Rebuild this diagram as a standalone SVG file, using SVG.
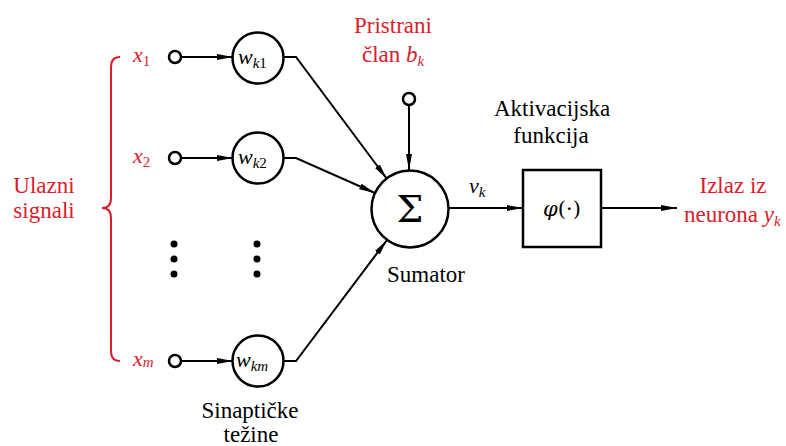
<svg xmlns="http://www.w3.org/2000/svg" width="786" height="446" viewBox="0 0 786 446">
<defs>
<marker id="arr" markerUnits="userSpaceOnUse" markerWidth="16" markerHeight="8" refX="16" refY="4" orient="auto">
<path d="M0,1 L16,4 L0,7 z" fill="#000"/>
</marker>
<style>
.node{fill:#fff;stroke:#000;stroke-width:2.5}
.c{fill:none;stroke:#000;stroke-width:2}
.dot{fill:#000}
.red{fill:#d9202a}
</style>
</defs>
<rect width="786" height="446" fill="#fff"/>

<g id="brace">
<path d="M120,57 Q111,57 111,67 L111,198 Q111,208 102,208 Q111,208 111,218 L111,351 Q111,361 120,361" fill="none" stroke="#d9202a" stroke-width="2"/>
<text class="red" font-family="Liberation Serif" font-size="23" x="44" y="193" text-anchor="middle">Ulazni</text>
<text class="red" font-family="Liberation Serif" font-size="23" x="44" y="218" text-anchor="middle">signali</text>
</g>

<g id="connectors">
<line class="c" x1="181" y1="57" x2="233" y2="57" marker-end="url(#arr)"/>
<line class="c" x1="181" y1="158" x2="233" y2="158" marker-end="url(#arr)"/>
<line class="c" x1="181" y1="361" x2="233" y2="361" marker-end="url(#arr)"/>
<polyline class="c" points="284,57 296,57 387,179" marker-end="url(#arr)"/>
<polyline class="c" points="284,158 296,158 375,193" marker-end="url(#arr)"/>
<polyline class="c" points="284,361 296,361 387,240" marker-end="url(#arr)"/>
<line class="c" x1="409" y1="105" x2="409" y2="170" marker-end="url(#arr)"/>
<line class="c" x1="448" y1="208" x2="523" y2="208" marker-end="url(#arr)"/>
<line class="c" x1="601" y1="208" x2="677" y2="208" marker-end="url(#arr)"/>
</g>

<g id="in1">
<circle class="node" cx="175" cy="57" r="6"/>
<text class="red" font-family="Liberation Serif" font-size="22" font-style="italic" x="133" y="62">x<tspan font-size="15" font-style="normal" dy="4">1</tspan></text>
</g>
<g id="in2">
<circle class="node" cx="175" cy="158" r="6"/>
<text class="red" font-family="Liberation Serif" font-size="22" font-style="italic" x="133" y="163">x<tspan font-size="15" font-style="normal" dy="4">2</tspan></text>
</g>
<g id="inm">
<circle class="node" cx="175" cy="361" r="6"/>
<text class="red" font-family="Liberation Serif" font-size="22" font-style="italic" x="133" y="366">x<tspan font-size="15" dy="1">m</tspan></text>
</g>

<g id="w1">
<circle class="node" cx="258" cy="58" r="25.5"/>
<text font-family="Liberation Serif" font-size="22" font-style="italic" x="238" y="64">w<tspan font-size="15" dy="4">k</tspan><tspan font-size="15" font-style="normal">1</tspan></text>
</g>
<g id="w2">
<circle class="node" cx="258" cy="158" r="25.5"/>
<text font-family="Liberation Serif" font-size="22" font-style="italic" x="238" y="164">w<tspan font-size="15" dy="4">k</tspan><tspan font-size="15" font-style="normal">2</tspan></text>
</g>
<g id="wm">
<circle class="node" cx="258" cy="361" r="25.5"/>
<text font-family="Liberation Serif" font-size="22" font-style="italic" x="236" y="367">w<tspan font-size="15" dy="4">km</tspan></text>
</g>

<g id="dots">
<circle class="dot" cx="174" cy="244" r="3.5"/>
<circle class="dot" cx="174" cy="259" r="3.5"/>
<circle class="dot" cx="174" cy="274" r="3.5"/>
<circle class="dot" cx="257" cy="244" r="3.5"/>
<circle class="dot" cx="257" cy="259" r="3.5"/>
<circle class="dot" cx="257" cy="274" r="3.5"/>
</g>

<g id="weights-label">
<text font-family="Liberation Serif" font-size="23" x="250" y="418" text-anchor="middle">Sinaptičke</text>
<text font-family="Liberation Serif" font-size="23" x="251" y="442" text-anchor="middle">težine</text>
</g>

<g id="bias">
<circle class="node" cx="409" cy="99" r="6"/>
<text class="red" font-family="Liberation Serif" font-size="23" x="393" y="33" text-anchor="middle">Pristrani</text>
<text class="red" font-family="Liberation Serif" font-size="23" x="362" y="62">član <tspan font-style="italic">b</tspan><tspan font-size="15" font-style="italic" dy="4">k</tspan></text>
</g>

<g id="sum">
<circle class="node" cx="410" cy="209" r="38.5"/>
<text font-family="DejaVu Serif" font-size="38" x="410" y="222" text-anchor="middle">Σ</text>
<text font-family="Liberation Serif" font-size="23" x="426" y="282" text-anchor="middle">Sumator</text>
</g>

<g id="vk">
<text font-family="Liberation Serif" font-size="22" font-style="italic" x="469" y="193">v<tspan font-size="15" dy="4">k</tspan></text>
</g>

<g id="act">
<rect x="523" y="170" width="78" height="77" fill="#fff" stroke="#000" stroke-width="2.5"/>
<text font-family="DejaVu Serif" font-size="21" x="562" y="216" text-anchor="middle"><tspan font-style="italic">φ</tspan>(·)</text>
<text font-family="Liberation Serif" font-size="23" x="552" y="116" text-anchor="middle">Aktivacijska</text>
<text font-family="Liberation Serif" font-size="23" x="551" y="143" text-anchor="middle">funkcija</text>
</g>

<g id="out">
<text class="red" font-family="Liberation Serif" font-size="23" x="733" y="193" text-anchor="middle">Izlaz iz</text>
<text class="red" font-family="Liberation Serif" font-size="23" x="684" y="222">neurona <tspan font-style="italic">y</tspan><tspan font-size="15" font-style="italic" dy="4">k</tspan></text>
</g>
</svg>
